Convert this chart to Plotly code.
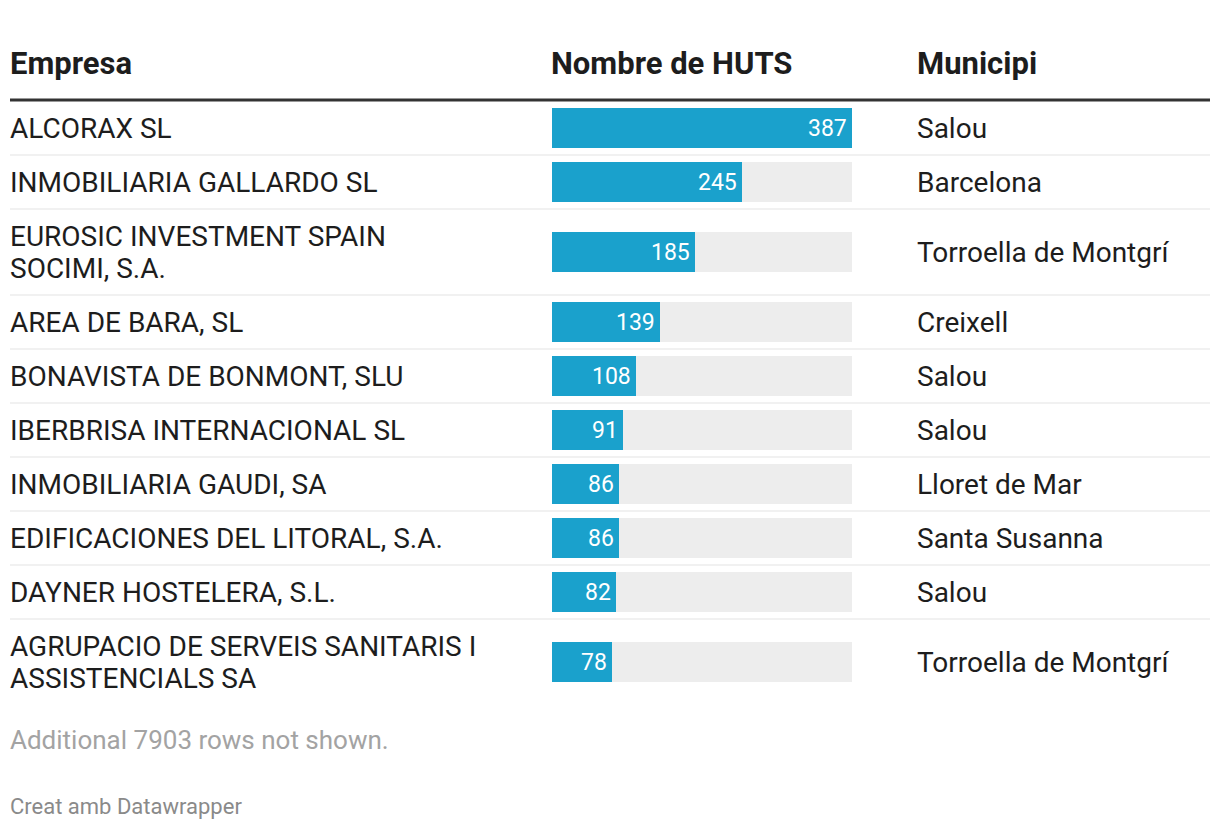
import plotly.graph_objects as go

# ---- data ----
empreses = [
    "ALCORAX SL",
    "INMOBILIARIA GALLARDO SL",
    "EUROSIC INVESTMENT SPAIN<br>SOCIMI, S.A.",
    "AREA DE BARA, SL",
    "BONAVISTA DE BONMONT, SLU",
    "IBERBRISA INTERNACIONAL SL",
    "INMOBILIARIA GAUDI, SA",
    "EDIFICACIONES DEL LITORAL, S.A.",
    "DAYNER HOSTELERA, S.L.",
    "AGRUPACIO DE SERVEIS SANITARIS I<br>ASSISTENCIALS SA",
]
huts = [387, 245, 185, 139, 108, 91, 86, 86, 82, 78]
municipis = [
    "Salou", "Barcelona", "Torroella de Montgrí", "Creixell", "Salou",
    "Salou", "Lloret de Mar", "Santa Susanna", "Salou", "Torroella de Montgrí",
]
headers = ["Empresa", "Nombre de HUTS", "Municipi"]
footnote = "Additional 7903 rows not shown."
credit = "Creat amb Datawrapper"

# ---- layout geometry (pixels) ----
W, H = 1220, 830
FONT = "Roboto, 'Open Sans', sans-serif"
TXT = "#1d1d1d"
BAR = "#1aa1cc"
BG = "#ededed"
header_line_y = 100
row_h1 = 54
extra_line = 32
PAD = 3  # annotation inner padding compensation
col_x = [11 - PAD, 552 - PAD, 918 - PAD]
bar_x0, bar_x1 = 552, 852

# row centers and boundaries
centers, bounds = [], []
y = header_line_y + 1
for name in empreses:
    nlines = name.count("<br>") + 1
    h = row_h1 + (nlines - 1) * extra_line
    centers.append(y + h / 2)
    bounds.append(y + h)
    y += h

vmax = max(huts)

fig = go.Figure()
fig.add_trace(go.Bar(
    x=[vmax] * len(huts), y=centers, orientation="h", width=40,
    marker=dict(color=BG, line=dict(width=0)), hoverinfo="skip", showlegend=False,
))
fig.add_trace(go.Bar(
    x=huts, y=centers, orientation="h", width=40,
    marker=dict(color=BAR, line=dict(width=0)), showlegend=False,
))

ann = []
# headers
for hx, htxt in zip(col_x, headers):
    ann.append(dict(x=hx / W, xref="paper", y=63, yref="y", text=f"<b>{htxt}</b>",
                    xanchor="left", yanchor="middle", showarrow=False,
                    font=dict(family=FONT, size=31, color=TXT)))
# rows
for c, name, v, mun in zip(centers, empreses, huts, municipis):
    lines = name.split("<br>")
    n = len(lines)
    for i, ln in enumerate(lines):
        ly = c + (i - (n - 1) / 2) * extra_line
        ann.append(dict(x=col_x[0] / W, xref="paper", y=ly, yref="y", text=ln,
                        xanchor="left", yanchor="middle", showarrow=False, align="left",
                        font=dict(family=FONT, size=28, color=TXT)))
    ann.append(dict(x=v, xref="x", y=c, yref="y", text=str(v),
                    xanchor="right", yanchor="middle", showarrow=False, xshift=-3,
                    font=dict(family=FONT, size=23, color="white")))
    ann.append(dict(x=col_x[2] / W, xref="paper", y=c, yref="y", text=mun,
                    xanchor="left", yanchor="middle", showarrow=False,
                    font=dict(family=FONT, size=28, color=TXT)))
# footnotes
ann.append(dict(x=col_x[0] / W, xref="paper", y=740, yref="y", text=footnote,
                xanchor="left", yanchor="middle", showarrow=False,
                font=dict(family=FONT, size=26, color="#a3a3a3")))
ann.append(dict(x=col_x[0] / W, xref="paper", y=806, yref="y", text=credit,
                xanchor="left", yanchor="middle", showarrow=False,
                font=dict(family=FONT, size=22, color="#8a8a8a")))

shapes = [dict(type="line", xref="paper", yref="y", x0=10 / W, x1=1210 / W,
               y0=header_line_y, y1=header_line_y, line=dict(color="#333333", width=3))]
for b in bounds[:-1]:
    shapes.append(dict(type="line", xref="paper", yref="y", x0=10 / W, x1=1210 / W,
                       y0=b, y1=b, line=dict(color="#ececec", width=1.5)))

fig.update_layout(
    width=W, height=H, margin=dict(l=0, r=0, t=0, b=0),
    paper_bgcolor="white", plot_bgcolor="rgba(0,0,0,0)",
    barmode="overlay", bargap=0,
    xaxis=dict(domain=[bar_x0 / W, bar_x1 / W], range=[0, vmax], visible=False, fixedrange=True),
    yaxis=dict(domain=[0, 1], range=[H, 0], visible=False, fixedrange=True),
    annotations=ann, shapes=shapes, showlegend=False,
    font=dict(family=FONT),
)

fig.write_html("out.html", config={"displayModeBar": False},
               post_script="document.body.style.margin='0';document.body.style.overflow='hidden';")
